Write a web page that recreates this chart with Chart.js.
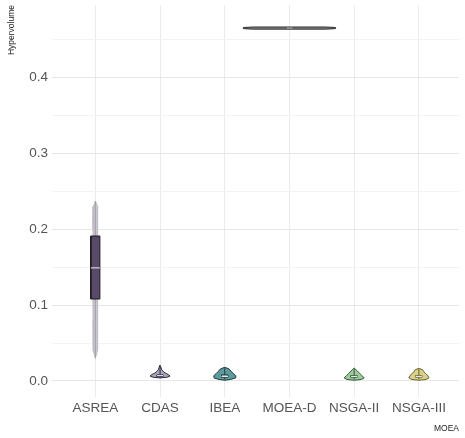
<!DOCTYPE html>
<html>
<head>
<meta charset="utf-8">
<script src="https://cdn.jsdelivr.net/npm/chart.js@4.4.1/dist/chart.umd.min.js"></script>
<style>
    html, body { margin: 0; padding: 0; background: #fff; }
    #wrap { width: 465px; height: 438px; }
</style>
</head>
<body>
<div id="wrap"><canvas id="chart" width="465" height="438"></canvas></div>
<script>
// =======================
// Data
// =======================
const methods = ["ASREA", "CDAS", "IBEA", "MOEA-D", "NSGA-II", "NSGA-III"];
const yGrid = [0, 0.05, 0.1, 0.15, 0.2, 0.25, 0.3, 0.35, 0.4, 0.45];

// box plot stats per method
const whiskerLo = [0.030, 0.004, 0.002, 0.4640, 0.002, 0.002];
const q1 = [0.108, 0.006, 0.005, 0.4645, 0.005, 0.005];
const median = [0.149, 0.007, 0.006, 0.4650, 0.006, 0.006];
const q3 = [0.191, 0.008, 0.008, 0.4655, 0.007, 0.007];
const whiskerHi = [0.237, 0.020, 0.017, 0.4660, 0.016, 0.016];

// violin outlines: value levels and density half widths (x units)
const asreaLevels = [0.030, 0.040, 0.080, 0.120, 0.160, 0.200, 0.230, 0.237];
const asreaWidths = [0, 0.032, 0.036, 0.038, 0.038, 0.036, 0.030, 0];
const cdasLevels = [0.0040, 0.0050, 0.0065, 0.0085, 0.0105, 0.0125, 0.0150, 0.0185, 0.0210];
const cdasWidths = [0, 0.110, 0.155, 0.125, 0.080, 0.048, 0.025, 0.012, 0];
const ibeaLevels = [0.0010, 0.0020, 0.0040, 0.0070, 0.0100, 0.0130, 0.0160, 0.0180];
const ibeaWidths = [0, 0.090, 0.165, 0.170, 0.130, 0.095, 0.065, 0];
const moeadLevels = [0.4636, 0.4642, 0.4650, 0.4658, 0.4664];
const moeadWidths = [0.560, 0.700, 0.720, 0.700, 0.560];
const nsga2Levels = [0.0010, 0.0020, 0.0040, 0.0070, 0.0100, 0.0130, 0.0155, 0.0170];
const nsga2Widths = [0, 0.110, 0.155, 0.120, 0.085, 0.050, 0.020, 0];
const nsga3Levels = [0.0010, 0.0020, 0.0040, 0.0070, 0.0100, 0.0125, 0.0150, 0.0165];
const nsga3Widths = [0, 0.110, 0.155, 0.140, 0.100, 0.075, 0.055, 0];

const violinLevels = [asreaLevels, cdasLevels, ibeaLevels, moeadLevels, nsga2Levels, nsga3Levels];
const violinWidths = [asreaWidths, cdasWidths, ibeaWidths, moeadWidths, nsga2Widths, nsga3Widths];

// =======================
// Styles
// =======================
const violinFill = ["#c9c6cd", "#aaa6bd", "#5f9a9c", "#8c8c8c", "#9dcb9b", "#d9d08c"];
const violinLine = ["#bdbac2", "#2d2b3a", "#1f3c3d", "#2a2a2a", "#35553a", "#6a6530"];
const boxFill = ["#5a4a6a", "#d4d3dc", "#bcd6d6", "#cccccc", "#d8ead6", "#ece7c4"];
const boxLine = ["#1a1a1a", "#2d2b3a", "#1f3c3d", "#2a2a2a", "#35553a", "#6a6530"];
const medianColor = ["#eeeeee", "#eeeeee", "#eeeeee", "#dddddd", "#eeeeee", "#eeeeee"];
const boxHalf = [0.07, 0.05, 0.05, 0.05, 0.05, 0.05];

// =======================
// Build datasets
// =======================
function violinPoints(i) {
    const x = i + 1;
    const lv = violinLevels[i];
    const w = violinWidths[i];
    const pts = [];
    for (let k = 0; k < lv.length; k++) pts.push({ x: x + w[k], y: lv[k] });
    for (let k = lv.length - 1; k >= 0; k--) pts.push({ x: x - w[k], y: lv[k] });
    pts.push(pts[0]);
    return pts;
}

function boxPoints(i) {
    const x = i + 1, h = boxHalf[i];
    return [
        { x: x - h, y: q1[i] }, { x: x + h, y: q1[i] },
        { x: x + h, y: q3[i] }, { x: x - h, y: q3[i] },
        { x: x - h, y: q1[i] }
    ];
}

const datasets = [];
methods.forEach((m, i) => {
    datasets.push({
        data: violinPoints(i),
        showLine: true, fill: "shape", tension: 0,
        backgroundColor: violinFill[i], borderColor: violinLine[i],
        borderWidth: 1, pointRadius: 0, order: 4
    });
    datasets.push({
        data: [{ x: i + 1, y: whiskerLo[i] }, { x: i + 1, y: whiskerHi[i] }],
        showLine: true, fill: false,
        borderColor: i === 0 ? "#a29ea8" : boxLine[i],
        borderWidth: 1, pointRadius: 0, order: 3
    });
    datasets.push({
        data: boxPoints(i),
        showLine: true, fill: "shape", tension: 0,
        backgroundColor: boxFill[i], borderColor: boxLine[i],
        borderWidth: 1, pointRadius: 0, order: 2
    });
    datasets.push({
        data: [{ x: i + 1 - boxHalf[i], y: median[i] }, { x: i + 1 + boxHalf[i], y: median[i] }],
        showLine: true, fill: false,
        borderColor: medianColor[i], borderWidth: 1, pointRadius: 0, order: 1
    });
});

// =======================
// Chart
// =======================
const tickFont = { family: "'Liberation Sans', Arial, sans-serif", size: 13.5 };
const titleFont = { family: "'Liberation Sans', Arial, sans-serif", size: 8.5 };

new Chart(document.getElementById("chart"), {
    type: "scatter",
    data: { datasets },
    options: {
        responsive: false,
        animation: false,
        layout: { padding: { top: 5, right: 6, left: 0, bottom: 0 } },
        plugins: { legend: { display: false }, tooltip: { enabled: false } },
        scales: {
            x: {
                type: "linear",
                min: 0.33,
                max: 6.62,
                afterBuildTicks: (scale) => {
                    scale.ticks = methods.map((m, i) => ({ value: i + 1 }));
                },
                afterFit: (scale) => {
                    scale.height = 41;
                    scale.paddingLeft = 0;
                    scale.paddingRight = 0;
                },
                ticks: {
                    autoSkip: false, maxRotation: 0, padding: 3,
                    color: "#555", font: tickFont,
                    callback: (v) => methods[Math.round(v) - 1]
                },
                grid: { color: "#ebebeb", drawTicks: false },
                border: { display: false },
                title: {
                    display: true, text: "MOEA", align: "end",
                    color: "#222", font: titleFont,
                    padding: { top: 0, bottom: 4 }
                }
            },
            y: {
                min: -0.0211,
                max: 0.4954,
                afterBuildTicks: (scale) => {
                    scale.ticks = yGrid.map(v => ({ value: v }));
                },
                afterFit: (scale) => {
                    scale.width = 52;
                    scale.paddingTop = 0;
                    scale.paddingBottom = 0;
                },
                ticks: {
                    padding: 4, color: "#555", font: tickFont,
                    callback: (v) => (Math.round(v * 100) % 10 === 0 ? v.toFixed(1) : "")
                },
                grid: {
                    drawTicks: false,
                    color: (ctx) => (Math.round(ctx.tick.value * 100) % 10 === 0 ? "#e6e6e6" : "#f3f3f3")
                },
                border: { display: false },
                title: {
                    display: true, text: "Hypervolume", align: "end",
                    color: "#222", font: titleFont,
                    padding: { top: 7, bottom: 0 }
                }
            }
        }
    }
});
</script>
</body>
</html>
